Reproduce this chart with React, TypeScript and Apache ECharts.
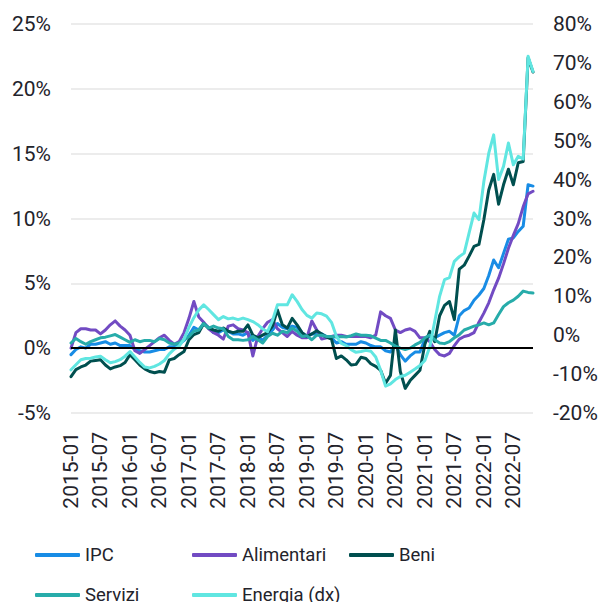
import React, { useEffect, useRef } from "react";
import * as echarts from "echarts";

// Monthly categories 2015-01 .. 2022-11
const startYear = 2015;
const endYear = 2022;
const endMonth = 11;
const months: string[] = [];
for (let y = startYear; y <= endYear; y++) {
  for (let m = 1; m <= 12; m++) {
    if (y === endYear && m > endMonth) break;
    months.push(`${y}-${String(m).padStart(2, "0")}`);
  }
}

const leftTicks = { min: -5, max: 25, interval: 5 };
const rightTicks = { min: -20, max: 80, interval: 10 };

const ipc = [
  -0.5, -0.1, 0.1, 0.0, 0.3, 0.3, 0.4, 0.5, 0.3, 0.4, 0.2, 0.2,
  0.2, -0.1, -0.2, -0.3, -0.3, -0.2, -0.1, -0.1, 0.1, 0.1, 0.3, 0.6,
  1.0, 1.6, 1.4, 1.9, 1.6, 1.2, 1.2, 1.4, 1.3, 1.1, 1.1, 1.0,
  1.2, 0.6, 0.9, 0.6, 1.0, 1.4, 1.9, 1.6, 1.5, 1.7, 1.6, 1.2,
  0.9, 1.1, 1.1, 1.1, 0.9, 0.8, 0.4, 0.5, 0.3, 0.3, 0.3, 0.5,
  0.4, 0.2, 0.1, 0.1, -0.2, -0.3, 0.3, -0.5, -1.0, -0.6, -0.3, -0.3,
  0.7, 0.9, 0.8, 1.0, 1.2, 1.3, 1.0, 2.5, 2.9, 3.1, 3.7, 4.1,
  4.6, 5.6, 6.8, 6.2, 7.3, 8.4, 8.5, 9.0, 9.4, 12.6, 12.5,
];

const alimentari = [
  0.0, 1.2, 1.5, 1.5, 1.4, 1.4, 1.1, 1.4, 1.8, 2.1, 1.7, 1.4,
  1.0, -0.2, -0.4, -0.1, 0.2, 0.5, 0.8, 1.0, 0.6, 0.3, 0.5, 1.2,
  2.3, 3.6, 2.4, 2.0, 1.5, 1.2, 1.0, 0.7, 1.7, 1.8, 1.5, 1.4,
  1.2, -0.6, 0.9, 1.5, 2.0, 2.2, 1.5, 1.2, 0.9, 1.3, 1.0, 0.8,
  0.8, 2.1, 1.4, 0.7, 0.8, 0.9, 1.0, 1.0, 0.9, 0.9, 0.9, 0.9,
  0.9, 0.8, 1.0, 2.8, 2.5, 2.3, 1.4, 1.2, 1.4, 1.5, 1.3, 0.8,
  0.8, 0.5, -0.1, -0.5, -0.6, -0.4, 0.2, 0.7, 0.9, 1.0, 1.2, 2.0,
  2.7, 3.5, 4.5, 5.4, 6.5, 7.7, 8.7, 9.6, 10.9, 11.9, 12.1,
];

const beni = [
  -2.2, -1.65, -1.45, -1.3, -1.0, -0.95, -0.9, -1.3, -1.6, -1.45, -1.35, -1.1,
  -0.5, -0.9, -1.3, -1.6, -1.8, -1.9, -1.8, -1.85, -0.9, -0.8, -0.5, -0.25,
  0.65, 1.05, 1.2, 1.9, 1.55, 1.4, 1.3, 1.55, 1.3, 1.2, 1.3, 1.3,
  1.8, 1.0, 0.8, 1.0, 1.2, 1.7, 2.95, 1.8, 1.55, 2.3, 1.8, 1.2,
  0.9, 1.1, 1.35, 1.1, 0.85, 0.7, -0.8, -0.6, -0.9, -1.3, -1.25, -0.7,
  -0.8, -1.2, -1.4, -1.7, -2.7, -2.1, 1.4, -1.8, -3.1, -2.5, -2.1, -1.7,
  0.3, 1.3, 0.5, 2.5, 3.3, 3.6, 2.2, 6.1, 6.4, 7.1, 7.85, 8.0,
  9.9, 12.2, 13.4, 11.1, 12.6, 13.8, 12.6, 14.3, 14.4, 22.4, 21.3,
];

const servizi = [
  0.4, 0.75, 0.5, 0.3, 0.5, 0.65, 0.8, 0.85, 0.95, 1.05, 0.85, 0.65,
  0.45, 0.65, 0.5, 0.6, 0.6, 0.5, 0.75, 0.65, 0.4, 0.3, 0.4, 0.65,
  0.9, 1.3, 1.4, 1.9, 1.55, 1.7, 1.55, 1.5, 0.9, 0.65, 0.65, 0.6,
  0.65, 0.9, 0.65, 0.4, 0.9, 1.15, 1.0, 1.3, 1.2, 1.55, 1.3, 0.9,
  0.95, 0.65, 1.0, 1.0, 0.9, 0.9, 0.86, 0.9, 0.86, 0.96, 1.1, 1.0,
  1.0, 0.95, 0.78, 0.6, 0.6, 0.4, 0.15, 0.0, -0.1, 0.0, 0.25, 0.45,
  0.8, 1.0, 0.65, 0.4, 0.35, 0.5, 0.8, 1.04, 1.4, 1.55, 1.7, 1.8,
  1.95, 1.8, 1.95, 2.6, 3.2, 3.5, 3.7, 4.0, 4.4, 4.3, 4.25,
];

const energia = [
  -8.9, -7.6, -6.3, -6.0, -5.9, -5.6, -5.4, -6.3, -7.1, -6.8, -6.3, -5.4,
  -4.2, -5.6, -7.0, -8.2, -8.4, -8.0, -7.4, -6.5, -4.8, -3.6, -2.8, -1.0,
  2.0, 4.5, 6.5, 7.8, 6.6, 5.3, 4.0, 4.8, 4.2, 4.4, 4.0, 4.4,
  4.0, 3.5, 2.7, 1.6, 0.9, 3.8, 7.8, 7.8, 7.8, 10.4, 8.7, 6.6,
  5.1, 4.4, 5.7, 5.5, 4.9, 3.3, -0.3, -2.1, -2.7, -3.7, -4.4, -4.2,
  -3.9, -4.1, -5.6, -9.0, -13.1, -12.5, -11.4, -10.6, -10.3, -9.5, -8.7, -7.8,
  -6.5, -3.0, 3.5, 10.0, 14.3, 14.8, 19.0, 20.2, 21.1, 26.3, 31.4, 29.7,
  39.5, 46.8, 51.5, 40.0, 43.4, 49.4, 43.8, 46.0, 45.3, 71.7, 67.8,
];

const seriesNames = ["IPC", "Alimentari", "Beni", "Servizi", "Energia (dx)"];
const seriesColors = ["#188CE5", "#724BC3", "#004F4F", "#27ACAA", "#60E6E1"];
const seriesData = [ipc, alimentari, beni, servizi, energia];
const seriesAxis = [0, 0, 0, 0, 1];

const textColor = "#23232b";
const font = "Roboto";

export default function App() {
  const ref = useRef<HTMLDivElement>(null);

  useEffect(() => {
    document.body.style.margin = "0";
    if (!ref.current) return;
    const chart = echarts.init(ref.current, undefined, { renderer: "svg" });

    const legendPos = [
      { left: 35, top: 544 },
      { left: 192, top: 544 },
      { left: 349, top: 544 },
      { left: 35, top: 584 },
      { left: 192, top: 584 },
    ];

    const option: any = {
      animation: false,
      backgroundColor: "#ffffff",
      grid: { left: 71, right: 82, top: 24, bottom: 189, containLabel: false },
      legend: seriesNames.map((name, i) => ({
        data: [name],
        left: legendPos[i].left,
        top: legendPos[i].top,
        padding: 0,
        icon: "roundRect",
        itemWidth: 45,
        itemHeight: 4,
        selectedMode: false,
        textStyle: { fontFamily: font, fontSize: 18.5, color: textColor, lineHeight: 22 },
      })),
      xAxis: {
        type: "category",
        data: months,
        boundaryGap: false,
        axisLine: { show: false },
        axisTick: { show: false },
        splitLine: { show: false },
        axisLabel: {
          rotate: 90,
          interval: 5,
          margin: 19,
          fontFamily: font,
          fontSize: 21,
          color: textColor,
        },
      },
      yAxis: [
        {
          type: "value",
          min: leftTicks.min,
          max: leftTicks.max,
          interval: leftTicks.interval,
          axisLine: { show: false },
          axisTick: { show: false },
          splitLine: { show: true, lineStyle: { color: "#ececec", width: 2 } },
          axisLabel: {
            formatter: "{value}%",
            margin: 20,
            fontFamily: font,
            fontSize: 21,
            color: textColor,
          },
        },
        {
          type: "value",
          position: "right",
          min: rightTicks.min,
          max: rightTicks.max,
          interval: rightTicks.interval,
          axisLine: { show: false },
          axisTick: { show: false },
          splitLine: { show: false },
          axisLabel: {
            formatter: "{value}%",
            margin: 20,
            fontFamily: font,
            fontSize: 21,
            color: textColor,
          },
        },
      ],
      series: seriesNames.map((name, i) => {
        const s: any = {
          name,
          type: "line",
          data: seriesData[i],
          yAxisIndex: seriesAxis[i],
          symbol: "none",
          showSymbol: false,
          smooth: false,
          color: seriesColors[i],
          itemStyle: { color: seriesColors[i] },
          lineStyle: { width: 3, color: seriesColors[i], join: "round", cap: "round" },
        };
        if (i === 0) {
          s.markLine = {
            silent: true,
            symbol: ["none", "none"],
            label: { show: false },
            lineStyle: { color: "#000000", width: 2, type: "solid" },
            data: [{ yAxis: 0 }],
          };
        }
        return s;
      }),
    };

    chart.setOption(option);
    return () => chart.dispose();
  }, []);

  return <div ref={ref} style={{ width: 615, height: 602 }} />;
}
